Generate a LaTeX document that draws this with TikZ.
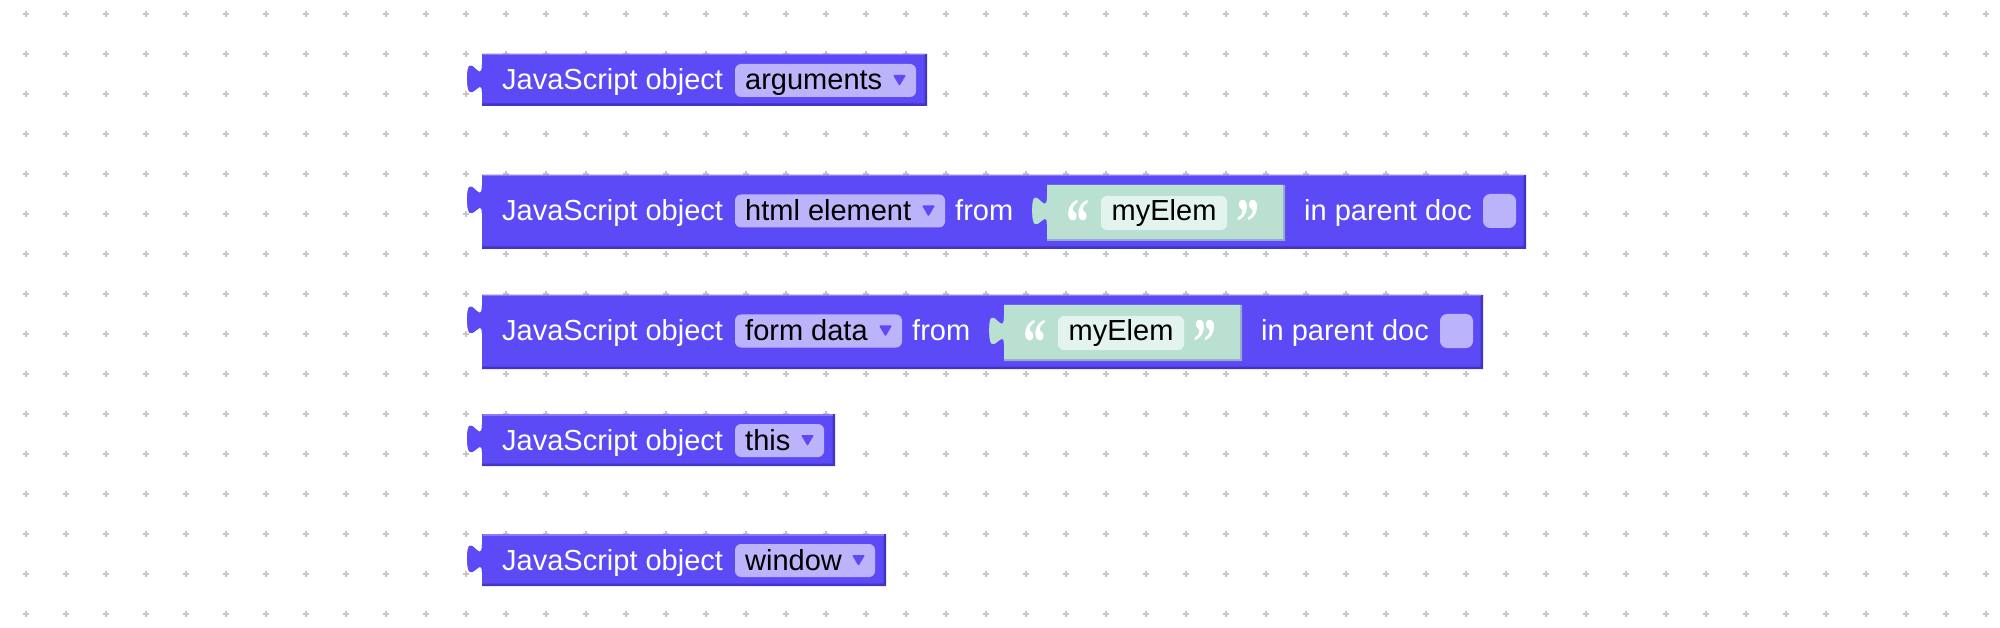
\documentclass[tikz,border=0pt]{standalone}
\usepackage{fontspec}
\setmainfont{Liberation Sans}
\newfontfamily\quotefont{Liberation Serif}
\definecolor{B}{RGB}{91,74,246}
\definecolor{BD}{RGB}{66,52,196}
\definecolor{BL}{RGB}{136,122,250}
\definecolor{F}{RGB}{187,180,251}
\definecolor{G}{RGB}{185,224,209}
\definecolor{GD}{RGB}{150,168,205}
\definecolor{W}{RGB}{227,243,237}
\definecolor{gridgray}{RGB}{198,198,198}

% purple block with output tab, #1 width, #2 height
\newcommand{\jsblock}[2]{%
  \fill[BD] (0,0) -- (#1,0) -- (#1,#2) -- (0,#2) -- (0,38.25)
    .. controls (0,19.75) and (-14.8,56.75) .. (-14.8,24.375)
    .. controls (-14.8,-8) and (0,33.625) .. (0,10.5) -- cycle;
  \fill[B] (0,0) -- ({#1-2.5},0) -- ({#1-2.5},{#2-2.5}) -- (0,{#2-2.5}) -- (0,38.25)
    .. controls (0,19.75) and (-14.8,56.75) .. (-14.8,24.375)
    .. controls (-14.8,-8) and (0,33.625) .. (0,10.5) -- cycle;
  \draw[BL, line width=1.5pt] (0.5,0.75) -- ({#1-2.5},0.75);
}
% green text block, #1 node name, #2 text
\newcommand{\strblock}[2]{%
  \fill[GD] (0,0) -- (238,0) -- (238,56) -- (0,56) -- (0,39.25)
    .. controls (0,20.75) and (-14.8,57.75) .. (-14.8,25.375)
    .. controls (-14.8,-7) and (0,34.625) .. (0,11.5) -- cycle;
  \fill[G] (0,0) -- (236,0) -- (236,54) -- (0,54) -- (0,39.25)
    .. controls (0,20.75) and (-14.8,57.75) .. (-14.8,25.375)
    .. controls (-14.8,-7) and (0,34.625) .. (0,11.5) -- cycle;
  \fill[W, rounded corners=6pt] (54,11) rectangle (180,45);
  \node[fldtxt] (#1) at (64.5,36) {#2};
  \node[quotemark] (#1open) at (19,15) {\scalebox{0.68}[1]{“}};
  \node[quotemark] (#1close) at (189,15) {\scalebox{0.68}[1]{”}};
}

\begin{document}
\begin{tikzpicture}[x=1pt,y=-1pt,
  lbl/.style={anchor=base west, inner sep=0pt, text=white, font=\fontsize{29}{34}\selectfont},
  fldtxt/.style={lbl, text=black},
  quotemark/.style={anchor=north west, inner sep=0pt, text=white, font=\fontsize{68}{68}\quotefont\bfseries},
  dropbox/.style={fill=F, rounded corners=6pt},
  checkbox/.style={fill=F, rounded corners=7pt},
  arrowtri/.style={fill=B, rounded corners=1pt},
  gridmark/.style={gridgray, line width=1.3pt}]
  \useasboundingbox[fill=white] (0,0) rectangle (2000,628);

  % workspace grid
  \foreach \i in {0,...,49}
    \foreach \j in {0,...,15}
      \draw[gridmark] ({23+40*\i},{14+40*\j}) -- ++(6,0)
                      ({26+40*\i},{11+40*\j}) -- ++(0,6);

  % arguments
  \begin{scope}[shift={(482,54)}]
    \jsblock{445}{52}
    \node[lbl] (obj1) at (20,36) {JavaScript object};
    \fill[dropbox] (253,10) rectangle (434,43);
    \node[fldtxt] (sel1) at (263,36) {arguments};
    \fill[arrowtri] (411,21) -- (424,21) -- (417.5,32) -- cycle;
  \end{scope}

  % html element
  \begin{scope}[shift={(482,175)}]
    \jsblock{1044}{74}
    \node[lbl] (obj2) at (20,46) {JavaScript object};
    \fill[dropbox] (253,19.5) rectangle (463,52.5);
    \node[fldtxt] (sel2) at (263,46) {html element};
    \fill[arrowtri] (440,30.5) -- (453,30.5) -- (446.5,41.5) -- cycle;
    \node[lbl] (from2) at (473,46) {from};
    \begin{scope}[shift={(565,10)}]
      \strblock{str2}{myElem}
    \end{scope}
    \node[lbl] (doc2) at (822,46) {in parent doc};
    \fill[checkbox] (1001,19) rectangle (1034,53);
  \end{scope}

  % form data
  \begin{scope}[shift={(482,295)}]
    \jsblock{1001}{74}
    \node[lbl] (obj3) at (20,46) {JavaScript object};
    \fill[dropbox] (253,19.5) rectangle (420,52.5);
    \node[fldtxt] (sel3) at (263,46) {form data};
    \fill[arrowtri] (397,30.5) -- (410,30.5) -- (403.5,41.5) -- cycle;
    \node[lbl] (from3) at (430,46) {from};
    \begin{scope}[shift={(522,10)}]
      \strblock{str3}{myElem}
    \end{scope}
    \node[lbl] (doc3) at (779,46) {in parent doc};
    \fill[checkbox] (958,19) rectangle (991,53);
  \end{scope}

  % this
  \begin{scope}[shift={(482,414)}]
    \jsblock{353}{52}
    \node[lbl] (obj4) at (20,36) {JavaScript object};
    \fill[dropbox] (253,10) rectangle (342,43);
    \node[fldtxt] (sel4) at (263,36) {this};
    \fill[arrowtri] (319,21) -- (332,21) -- (325.5,32) -- cycle;
  \end{scope}

  % window
  \begin{scope}[shift={(482,534)}]
    \jsblock{404}{52}
    \node[lbl] (obj5) at (20,36) {JavaScript object};
    \fill[dropbox] (253,10) rectangle (393,43);
    \node[fldtxt] (sel5) at (263,36) {window};
    \fill[arrowtri] (370,21) -- (383,21) -- (376.5,32) -- cycle;
  \end{scope}
\end{tikzpicture}
\end{document}
